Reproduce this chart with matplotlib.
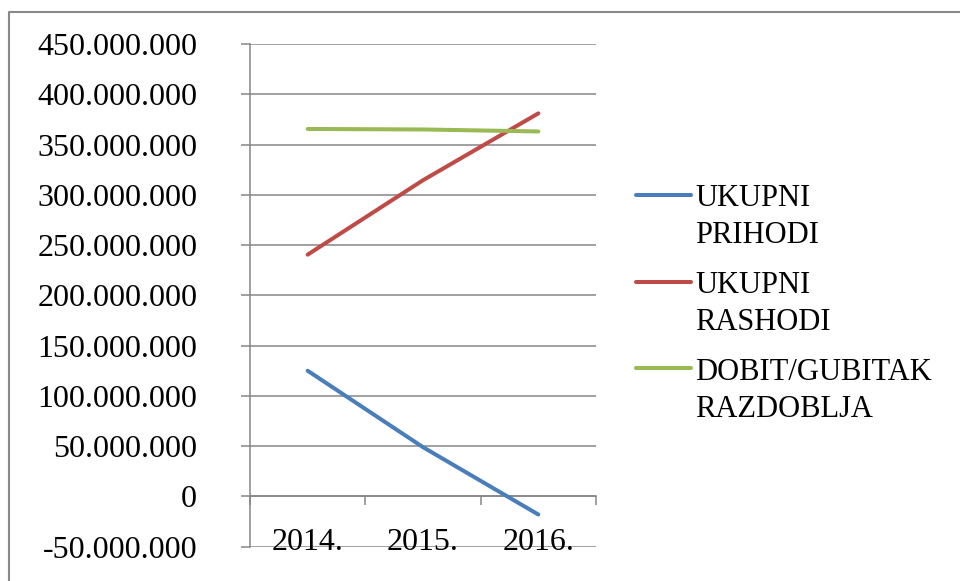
import matplotlib
matplotlib.use("Agg")
import matplotlib.pyplot as plt
from matplotlib.ticker import FuncFormatter, MultipleLocator
from matplotlib.lines import Line2D
import matplotlib.transforms as mtransforms

godine = ["2014.", "2015.", "2016."]
ukupni_prihodi = [125_000_000, 49_000_000, -18_000_000]
ukupni_rashodi = [240_500_000, 314_500_000, 381_000_000]
dobit_gubitak = [365_500_000, 365_000_000, 363_000_000]

nazivi = ["UKUPNI\nPRIHODI", "UKUPNI\nRASHODI", "DOBIT/GUBITAK\nRAZDOBLJA"]
boje = ["#4A7EBB", "#BE4B48", "#98B954"]

plt.rcParams["font.family"] = ["Liberation Serif", "DejaVu Serif"]

fig = plt.figure(figsize=(9.6, 5.81), dpi=100)
ax = fig.add_axes([250 / 960, 1 - 546.7 / 581, 346 / 960, (546.7 - 44) / 581])

x = [i + 0.5 for i in range(len(godine))]
for vals, c in zip([ukupni_prihodi, ukupni_rashodi, dobit_gubitak], boje):
    ax.plot(x, vals, color=c, lw=2.9, solid_capstyle="round", zorder=3)

ax.set_xlim(0, len(godine))
ax.set_ylim(-50_000_000, 450_000_000)
ax.yaxis.set_major_locator(MultipleLocator(50_000_000))
ax.yaxis.set_major_formatter(FuncFormatter(lambda v, p: f"{int(round(v)):,}".replace(",", ".")))
ax.grid(axis="y", color="#868686", lw=1.1)
ax.set_axisbelow(True)

gray = "#868686"
for s in ["top", "right"]:
    ax.spines[s].set_visible(False)
ax.spines["left"].set_color(gray)
ax.spines["left"].set_linewidth(1.1)
ax.spines["bottom"].set_position(("data", 0))
ax.spines["bottom"].set_color(gray)
ax.spines["bottom"].set_linewidth(1.1)

ax.tick_params(axis="y", direction="out", length=6.5, width=1.1, color=gray,
               pad=31.5, labelsize=23)
ax.set_xticks(range(len(godine) + 1))
ax.tick_params(axis="x", direction="out", length=6.5, width=1.1, color=gray,
               labelbottom=False)

trans = mtransforms.blended_transform_factory(ax.transData, ax.transAxes)
for xi, g in zip(x, godine):
    ax.text(xi, 0.009, g, transform=trans, ha="center", va="center", fontsize=23)

# legenda
leg_y = [1 - 195 / 581, 1 - 281.7 / 581, 1 - 368.3 / 581]
for yy, naziv, c in zip(leg_y, nazivi, boje):
    fig.add_artist(Line2D([636 / 960, 691 / 960], [yy, yy], color=c, lw=2.9,
                          solid_capstyle="round"))
    for k, red in enumerate(naziv.split("\n")):
        fig.text(695 / 960, yy - (11.5 + 36.7 * k) / 581, red, ha="left",
                 va="baseline", fontsize=22)

# okvir
fig.add_artist(Line2D([9 / 960, 9 / 960, 1.01], [-0.01, 1 - 12 / 581, 1 - 12 / 581],
                      color="#898989", lw=1.5))

fig.savefig("out.png", dpi=100)
